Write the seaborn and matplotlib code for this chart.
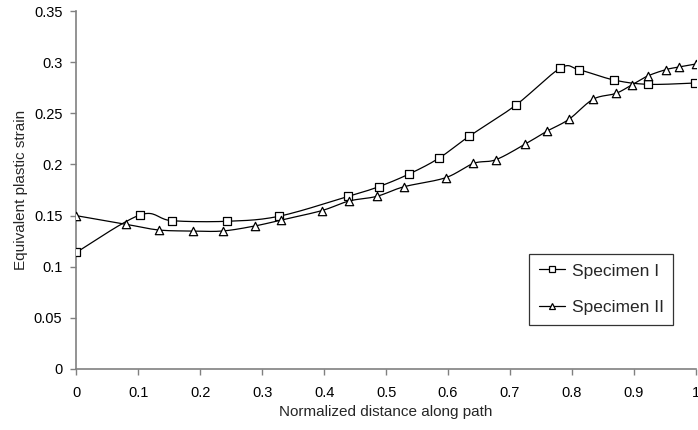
import numpy as np
import pandas as pd
import seaborn as sns
import matplotlib
matplotlib.use("Agg")
import matplotlib.pyplot as plt
from matplotlib.lines import Line2D
from matplotlib.ticker import FuncFormatter

# Equivalent plastic strain along the normalized path
dist_spec1 = [0.0, 0.103, 0.154, 0.243, 0.327, 0.439, 0.488, 0.537, 0.585,
              0.634, 0.709, 0.781, 0.811, 0.868, 0.923, 0.999]
strain_spec1 = [0.114, 0.1506, 0.145, 0.1444, 0.1493, 0.1688, 0.1782, 0.1906,
                0.206, 0.2275, 0.2578, 0.294, 0.2926, 0.2825, 0.2783, 0.2796]

dist_spec2 = [0.0, 0.081, 0.133, 0.188, 0.236, 0.288, 0.331, 0.396, 0.44,
              0.485, 0.529, 0.596, 0.641, 0.677, 0.724, 0.759, 0.795, 0.834,
              0.871, 0.897, 0.922, 0.951, 0.972, 1.0]
strain_spec2 = [0.1499, 0.1414, 0.1359, 0.1349, 0.1349, 0.1398, 0.1457, 0.1548,
                0.1642, 0.1688, 0.1782, 0.187, 0.201, 0.2046, 0.2197, 0.2323,
                0.2441, 0.2637, 0.2695, 0.278, 0.2864, 0.2926, 0.2952, 0.2982]

series_names = ["Specimen I", "Specimen II"]
series_markers = ["s", "^"]

x_ticks = [0, 0.1, 0.2, 0.3, 0.4, 0.5, 0.6, 0.7, 0.8, 0.9, 1.0]
y_ticks = [0, 0.05, 0.1, 0.15, 0.2, 0.25, 0.3, 0.35]


def smooth_curve(x, y, n=20):
    """Catmull-Rom style smoothing of a polyline for display."""
    x = np.asarray(x, float)
    y = np.asarray(y, float)
    px = np.concatenate([[x[0]], x, [x[-1]]])
    py = np.concatenate([[y[0]], y, [y[-1]]])
    xs, ys = [], []
    t = np.linspace(0, 1, n, endpoint=False)
    for i in range(1, len(px) - 2):
        p0x, p1x, p2x, p3x = px[i - 1], px[i], px[i + 1], px[i + 2]
        p0y, p1y, p2y, p3y = py[i - 1], py[i], py[i + 1], py[i + 2]
        c1x = p1x + (p2x - p0x) / 6
        c1y = p1y + (p2y - p0y) / 6
        c2x = p2x - (p3x - p1x) / 6
        c2y = p2y - (p3y - p1y) / 6
        b0 = (1 - t) ** 3
        b1 = 3 * (1 - t) ** 2 * t
        b2 = 3 * (1 - t) * t ** 2
        b3 = t ** 3
        xs.append(b0 * p1x + b1 * c1x + b2 * c2x + b3 * p2x)
        ys.append(b0 * p1y + b1 * c1y + b2 * c2y + b3 * p2y)
    xs.append([x[-1]])
    ys.append([y[-1]])
    return np.concatenate(xs), np.concatenate(ys)


sns.set_theme(style="white")
plt.rcParams["font.family"] = ["Liberation Sans", "DejaVu Sans"]

fig = plt.figure(figsize=(6.98, 4.30), dpi=100)
ax = fig.add_axes([0.1093, 0.1419, 0.8877, 0.8325])

axis_grey = "#808080"
series = [(dist_spec1, strain_spec1), (dist_spec2, strain_spec2)]
handles = []
for (xd, yd), name, mk in zip(series, series_names, series_markers):
    sx, sy = smooth_curve(xd, yd)
    curve = pd.DataFrame({"x": sx, "y": sy})
    sns.lineplot(data=curve, x="x", y="y", ax=ax, color="black", lw=0.9,
                 sort=False, estimator=None, zorder=2)
    pts = pd.DataFrame({"x": xd, "y": yd})
    sns.scatterplot(data=pts, x="x", y="y", ax=ax, marker=mk,
                    s=32 if mk == "s" else 36,
                    facecolor="white", edgecolor="black", linewidth=0.9,
                    zorder=3)
    handles.append(Line2D([], [], color="black", lw=0.9, marker=mk,
                          markersize=4.5, markerfacecolor="white",
                          markeredgecolor="black", markeredgewidth=0.9,
                          label=name))

ax.set_xlim(0, 1.0)
ax.set_ylim(0, 0.35)
ax.set_xticks(x_ticks)
ax.set_yticks(y_ticks)
ax.xaxis.set_major_formatter(FuncFormatter(lambda v, p: f"{v:g}"))
ax.yaxis.set_major_formatter(FuncFormatter(lambda v, p: f"{v:g}"))
ax.tick_params(axis="both", which="major", direction="out", length=4,
               width=1, color=axis_grey, labelsize=10.5, labelcolor="black",
               bottom=True, left=True)
ax.tick_params(axis="y", pad=6)
ax.tick_params(axis="x", pad=8)

for side in ("top", "right"):
    ax.spines[side].set_visible(False)
for side in ("left", "bottom"):
    ax.spines[side].set_color(axis_grey)
    ax.spines[side].set_linewidth(1.2)

ax.set_xlabel("Normalized distance along path", fontsize=11, labelpad=4)
ax.set_ylabel("Equivalent plastic strain", fontsize=11, labelpad=4)

leg = ax.legend(handles=handles, loc="lower right",
                bbox_to_anchor=(0.9635, 0.123), fontsize=12.5,
                frameon=True, fancybox=False, edgecolor="black",
                handlelength=1.5, handletextpad=0.4, labelspacing=1.25,
                borderpad=0.55, borderaxespad=0)
leg.get_frame().set_linewidth(0.9)

fig.savefig("out.png", dpi=100)
